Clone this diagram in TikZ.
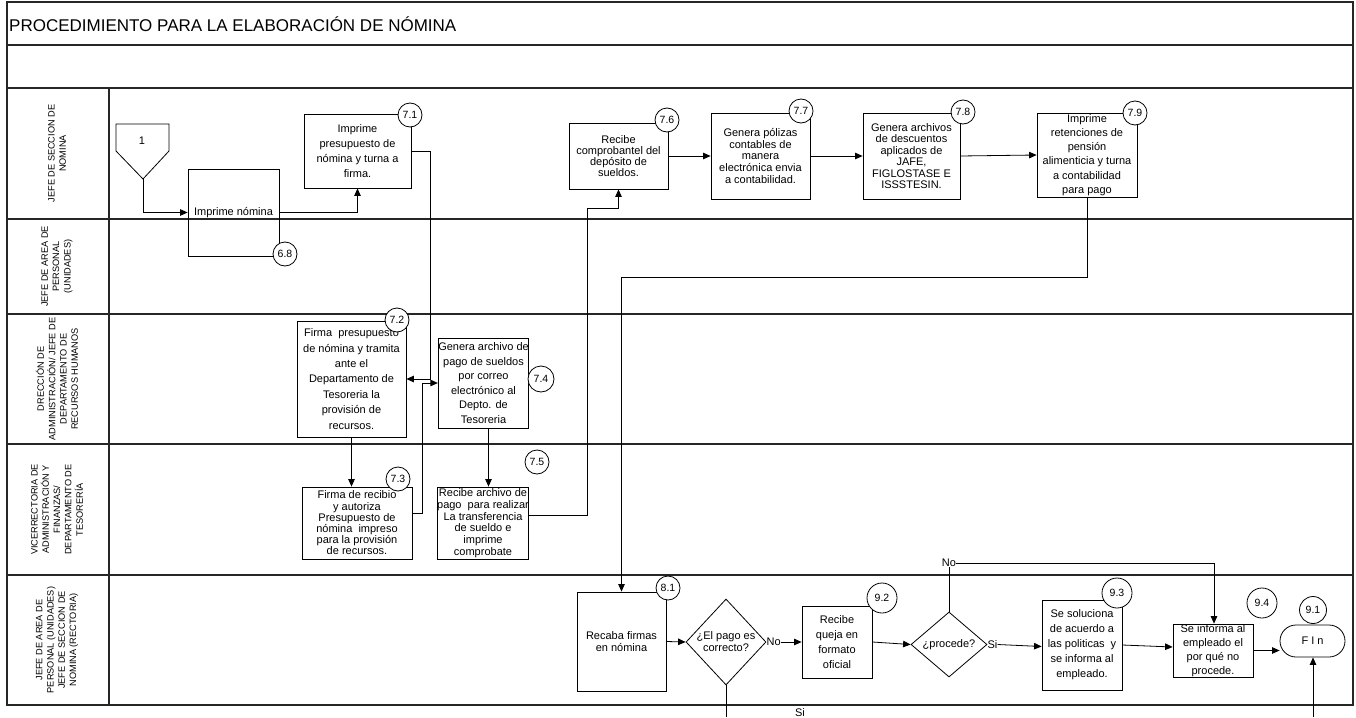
\documentclass[tikz,border=0pt]{standalone}
\usepackage{fontspec}
\setmainfont{Liberation Sans}
\usetikzlibrary{shapes.geometric,arrows.meta,calc}
\begin{document}
\begin{tikzpicture}[x=1pt,y=-1pt,
  lane/.style={line width=1.3pt, draw=black!85},
  box/.style={draw, line width=0.8pt, align=center, inner sep=0pt, font=\fontsize{11}{11.5}\selectfont},
  loose/.style={font=\fontsize{11}{14.8}\selectfont},
  num/.style={draw, circle, fill=white, line width=0.8pt, inner sep=0pt, minimum size=24pt, font=\fontsize{10.5}{12}\selectfont},
  bignum/.style={num, minimum size=30pt},
  dia/.style={draw, diamond, line width=0.8pt, inner sep=0pt},
  arr/.style={-{Triangle[length=7.5pt,width=6.5pt]}, line width=0.8pt},
  ln/.style={line width=0.8pt},
  lbl/.style={font=\fontsize{11}{12}\selectfont, inner sep=1pt, align=center},
  lanetxt/.style={rotate=90, align=center, font=\fontsize{9.2}{11.3}\selectfont, inner sep=0pt}
]
\useasboundingbox (0,0) rectangle (1356,717);

% frame and lanes
\draw[lane] (7,2) rectangle (1353,705);
\draw[lane] (7,45) -- (1353,45);
\draw[lane] (7,88) -- (1353,88);
\draw[lane] (7,219) -- (1353,219);
\draw[lane] (7,314) -- (1353,314);
\draw[lane] (7,444) -- (1353,444);
\draw[lane] (7,575) -- (1353,575);
\draw[lane] (109,88) -- (109,705);

\node[anchor=west, font=\fontsize{17}{20}\selectfont, inner sep=0pt] (title) at (9,24) {PROCEDIMIENTO PARA LA ELABORACIÓN DE NÓMINA};

\node[lanetxt] (l1) at (57,153.5) {JEFE DE SECCION DE\\NOMINA};
\node[lanetxt] (l2) at (57,266.5) {JEFE DE AREA DE\\PERSONAL\\(UNIDADES)};
\node[lanetxt] (l3) at (57,379) {DRECCIÓN DE\\ADMINISTRACIÓN/ JEFE DE\\DEPARTAMENTO DE\\RECURSOS HUMANOS};
\node[lanetxt] (l4) at (57,509.5) {VICERRECTORIA DE\\ADMINISTRACIÓN Y\\FINANZAS/\\DEPARTAMENTO DE\\TESORERÍA};
\node[lanetxt] (l5) at (57,640) {JEFE DE AREA DE\\PERSONAL (UNIDADES)\\JEFE DE SECCION DE\\NOMINA (RECTORIA)};

% off-page connector
\draw[ln] (116,124) -- (169,124) -- (169,151) -- (143,179) -- (116,151) -- cycle;
\node[lbl] (c1) at (142,141) {1};
\coordinate (c1tip) at (143,179);

% boxes
\node[box, minimum width=91pt, minimum height=87pt] (n68) at (233.5,212.5) {Imprime nómina};
\node[box, loose, minimum width=107pt, minimum height=74pt] (n71) at (357.5,151) {Imprime\\presupuesto de\\nómina y turna a\\firma.};
\node[box, font=\fontsize{11}{15.4}\selectfont, minimum width=109pt, minimum height=116pt] (n72) at (351.5,379) {Firma \ presupuesto\\de nómina y tramita\\ante el\\Departamento de\\Tesoreria la\\provisión de\\recursos.};
\node[box, font=\fontsize{11}{11.2}\selectfont, minimum width=110pt, minimum height=72pt] (n73) at (357,523) {Firma de recibio\\y autoriza\\Presupuesto de\\nómina \ impreso\\para la provisión\\de recursos.};
\node[box, font=\fontsize{11}{14.6}\selectfont, minimum width=89pt, minimum height=90pt] (n74) at (483.5,383) {Genera archivo de\\pago de sueldos\\por correo\\electrónico al\\Depto. de\\Tesoreria};
\node[box, font=\fontsize{11}{11.7}\selectfont, minimum width=88pt, minimum height=72pt] (n75) at (483,523) {Recibe archivo de\\pago \ para realizar\\La transferencia\\de sueldo e\\imprime\\comprobate};
\node[box, font=\fontsize{11}{11.2}\selectfont, minimum width=99pt, minimum height=66pt] (n76) at (618.5,156) {Recibe\\comprobantel del\\depósito de\\sueldos.};
\node[box, font=\fontsize{11}{11.7}\selectfont, minimum width=99pt, minimum height=86pt] (n77) at (760.5,156) {Genera pólizas\\contables de\\manera\\electrónica envia\\a contabilidad.};
\node[box, font=\fontsize{11}{11.4}\selectfont, minimum width=97pt, minimum height=86pt] (n78) at (911.5,156) {Genera archivos\\de descuentos\\aplicados de\\JAFE,\\FIGLOSTASE E\\ISSSTESIN.};
\node[box, font=\fontsize{11}{14.2}\selectfont, minimum width=100pt, minimum height=84pt] (n79) at (1087,155) {Imprime\\retenciones de\\pensión\\alimenticia y turna\\a contabilidad\\para pago};
\node[box, font=\fontsize{11}{11.5}\selectfont, minimum width=89pt, minimum height=99pt] (n81) at (621.5,641.5) {Recaba firmas\\en nómina};
\node[dia, minimum width=80pt, minimum height=86pt] (d1) at (726,642) {};
\node[lbl] (d1t) at (726,642) {¿El pago es\\correcto?};
\node[box, loose, minimum width=70pt, minimum height=72pt] (n92) at (837,642) {Recibe\\queja en\\formato\\oficial};
\node[dia, minimum width=76pt, minimum height=65pt] (d2) at (949,644.5) {};
\node[lbl] (d2t) at (949,644.5) {¿procede?};
\node[box, font=\fontsize{11}{15}\selectfont, minimum width=80pt, minimum height=90pt] (n93) at (1082,645) {Se soluciona\\de acuerdo a\\las politicas \ y\\se informa al\\empleado.};
\node[box, font=\fontsize{11}{14}\selectfont, minimum width=80pt, minimum height=53pt] (n94) at (1213,650.5) {Se informa al\\empleado el\\por qué no\\procede.};
\node[draw, line width=0.8pt, rounded corners=16pt, minimum width=65pt, minimum height=32pt, font=\fontsize{11}{12}\selectfont] (fin) at (1312.5,641) {F I n};

% connectors
\coordinate (j1) at (430,379);
\coordinate (j2) at (422,383);
\coordinate (j3) at (587,208);
\coordinate (j4) at (1087,277);
\coordinate (sb) at (726,717);
\coordinate (fb) at (1313,717);

\draw[arr] (c1tip) |- (n68.west);
\draw[arr] (n68.east) -| (n71.south);
\draw[arr] (n71.east) -| (j1) -- (n72.east);
\draw[arr] ([yshift=10pt]n73.east) -| (j2) -- (n74.west);
\draw[arr] (n72.south) -- (n72.south |- n73.north);
\draw[arr] ([xshift=5pt]n74.south) -- ([xshift=5pt]n74.south |- n75.north);
\draw[arr] ([yshift=8pt]n75.east) -| (j3) -| (n76.south);
\draw[arr] (n76.east) -- (n77.west);
\draw[arr] (n77.east) -- (n78.west);
\draw[arr] (n78.east) -- (n79.west);
\draw[arr] (n79.south) -- (j4) -| (n81.north);
\draw[arr] (n81.east) -- (d1.west);
\node[lbl, anchor=west, inner sep=0pt] (no1) at (d1.east) {No};
\draw[arr] (no1.east) -- (n92.west);
\draw[arr] (n92.east) -- (d2.west);
\node[lbl, inner sep=0pt] (no2) at (949,563) {No};
\draw[ln] (d2.north) -- (no2.south);
\draw[arr] (no2.east) -| ([xshift=1pt]n94.north);
\node[lbl, anchor=west, inner sep=0pt] (si1) at (d2.east) {Si};
\draw[arr] (si1.east) -- ([yshift=-2pt]n93.west |- si1.east);
\draw[arr] (n93.east) -- ([yshift=3.5pt]n94.west);
\draw[arr] (n94.east) -- (n94.east -| fin.west);
\draw[arr] (fb) -- (fb |- fin.south);
\draw[ln] (d1.south) -- (sb);
\node[lbl, anchor=base] (si2) at (800,716) {Si};

% step numbers
\node[num] (s68) at (285,254) {6.8};
\node[num] (s71) at (410,115) {7.1};
\node[num] (s72) at (397,320) {7.2};
\node[num] (s73) at (398,479) {7.3};
\node[num, minimum size=26pt] (s74) at (541,379) {7.4};
\node[num] (s75) at (537,462) {7.5};
\node[num] (s76) at (667,120) {7.6};
\node[num] (s77) at (801,111) {7.7};
\node[num] (s78) at (963,112) {7.8};
\node[num] (s79) at (1135,113) {7.9};
\node[num] (s81) at (668,588) {8.1};
\node[bignum] (s92) at (882,598) {9.2};
\node[bignum] (s93) at (1117,593) {9.3};
\node[bignum] (s94) at (1262,603) {9.4};
\node[num, minimum size=27pt] (s91) at (1313,610) {9.1};
\end{tikzpicture}
\end{document}
